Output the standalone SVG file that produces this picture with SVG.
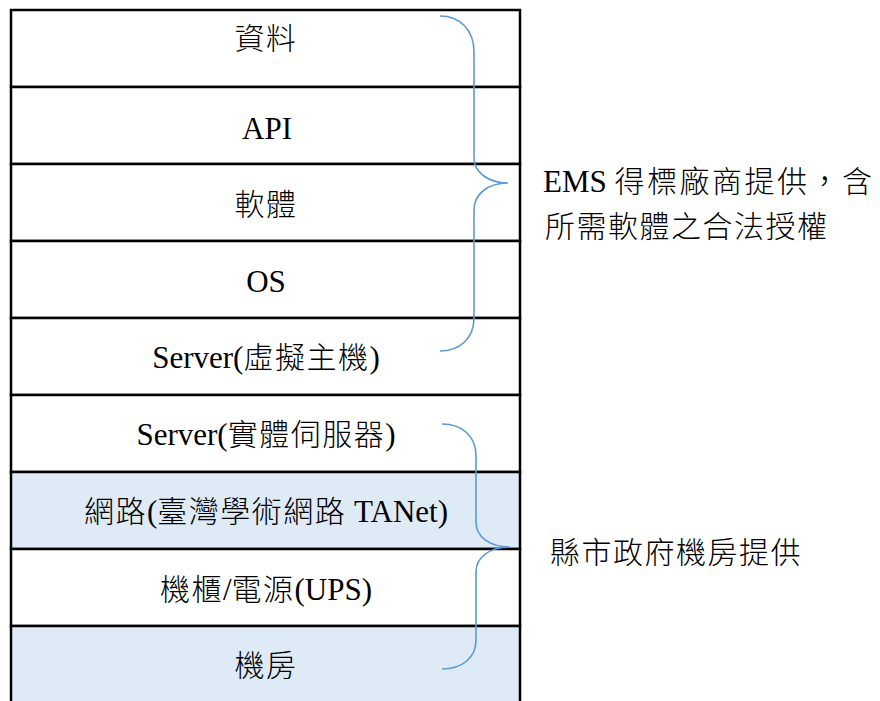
<svg xmlns="http://www.w3.org/2000/svg" width="880" height="701" viewBox="0 0 880 701">
<defs>
<style>
.t{font-family:"Liberation Serif","Noto Sans CJK TC",serif;font-size:31px;fill:#000;text-anchor:middle}
.r{font-family:"Liberation Serif","Noto Sans CJK TC",serif;font-size:31px;fill:#000;text-anchor:start}
.c{letter-spacing:1.5px;font-size:30px;font-weight:300}
.w{letter-spacing:2.5px}
.row{stroke:#000;stroke-width:2.5;fill:#fff}
.blue{fill:#DEEAF6}
.brace{fill:none;stroke:#5B9BD5;stroke-width:1.6}
</style>
</defs>
<rect width="880" height="701" fill="#fff"/>
<g id="row-data"><rect class="row" x="11" y="10" width="509" height="77"/><text class="t c" x="266" y="49">資料</text></g>
<g id="row-api"><rect class="row" x="11" y="87" width="509" height="77"/><text class="t" x="267" y="139">API</text></g>
<g id="row-software"><rect class="row" x="11" y="164" width="509" height="77"/><text class="t c" x="266" y="215">軟體</text></g>
<g id="row-os"><rect class="row" x="11" y="241" width="509" height="77"/><text class="t" x="266" y="292">OS</text></g>
<g id="row-vserver"><rect class="row" x="11" y="318" width="509" height="77"/><text class="t" x="266" y="368">Server(<tspan class="c">虛擬主機</tspan>)</text></g>
<g id="row-pserver"><rect class="row" x="11" y="395" width="509" height="77"/><text class="t" x="266" y="445">Server(<tspan class="c">實體伺服器</tspan>)</text></g>
<g id="row-network"><rect class="row blue" x="11" y="472" width="509" height="77"/><text class="t" x="266" y="522"><tspan class="c">網路</tspan>(<tspan class="c">臺灣學術網路</tspan> TANet)</text></g>
<g id="row-rack"><rect class="row" x="11" y="549" width="509" height="77"/><text class="t" x="266" y="600"><tspan class="c">機櫃</tspan>/<tspan class="c">電源</tspan>(UPS)</text></g>
<g id="row-room"><rect class="row blue" x="11" y="626" width="509" height="80"/><text class="t c" x="266" y="676">機房</text></g>
<g id="connectors">
<path class="brace" d="M440,16 C460,16 474,30 474,52 L474,158 C474,172 488,183 508,183 C488,183 474,194 474,210 L474,318 C474,338 460,351 440,351"/>
<path class="brace" d="M442,424 C462,424 476,436 476,456 L476,522 C476,537 490,547 510,547 C490,547 476,557 476,572 L476,640 C476,658 462,669 442,669"/>
</g>
<g id="label-vendor">
<text class="r" x="543" y="192">EMS <tspan class="c w">得標廠商提供，含</tspan></text>
<text class="r c" x="545" y="237">所需軟體之合法授權</text>
</g>
<g id="label-county"><text class="r c" x="550" y="563">縣市政府機房提供</text></g>
</svg>
